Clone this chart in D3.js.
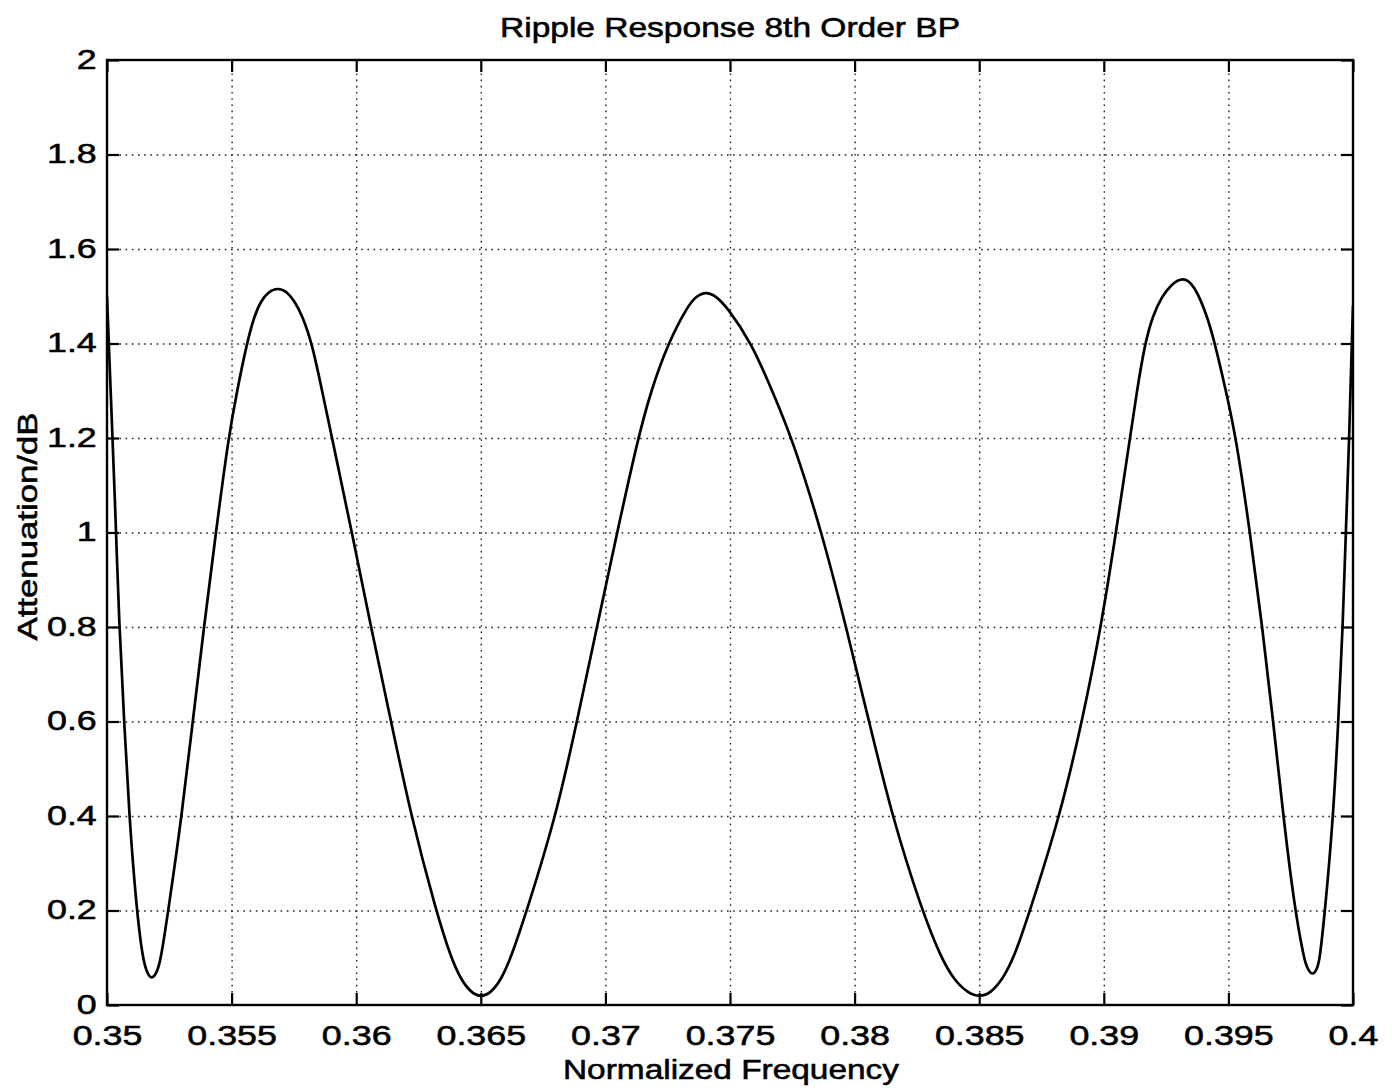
<!DOCTYPE html>
<html>
<head>
<meta charset="utf-8">
<script src="https://cdn.jsdelivr.net/npm/d3@7"></script>
<style>
  html, body { margin: 0; padding: 0; background: #fff; }
  svg { display: block; }
  text { font-family: "Liberation Sans", Arial, Helvetica, sans-serif; fill: #000;
         stroke: #000; stroke-width: 0.55px; paint-order: stroke; }
</style>
</head>
<body>
<svg id="chart" width="1392" height="1090"></svg>
<script>
// Passband ripple of the 8th order band-pass filter (attenuation in dB)
const freq = [
  0.35000, 0.35016, 0.35032, 0.35049, 0.35069, 0.35089, 0.35119, 0.35143, 0.35159,
  0.35179, 0.35202, 0.35217, 0.35246, 0.35300, 0.35344, 0.35389, 0.35437, 0.35487,
  0.35522, 0.35561, 0.35592, 0.35618, 0.35648, 0.35686, 0.35722, 0.35752, 0.35783,
  0.35823, 0.35863, 0.35903, 0.35983, 0.36059, 0.36140, 0.36220, 0.36320, 0.36380,
  0.36421, 0.36463, 0.36501, 0.36539, 0.36581, 0.36621, 0.36685, 0.36802, 0.36886,
  0.36966, 0.37047, 0.37131, 0.37183, 0.37251, 0.37331, 0.37364, 0.37404, 0.37444,
  0.37484, 0.37588, 0.37669, 0.37749, 0.37869, 0.37966, 0.38058, 0.38150, 0.38270,
  0.38347, 0.38399, 0.38455, 0.38503, 0.38545, 0.38592, 0.38640, 0.38704, 0.38824,
  0.38913, 0.38989, 0.39049, 0.39105, 0.39133, 0.39165, 0.39197, 0.39234, 0.39270,
  0.39318, 0.39362, 0.39414, 0.39446, 0.39490, 0.39531, 0.39587, 0.39636, 0.39680,
  0.39720, 0.39767, 0.39803, 0.39814, 0.39838, 0.39859, 0.39867, 0.39888, 0.39921,
  0.39941, 0.39959, 0.39971, 0.39985, 0.39995, 0.40000
];
const attenuation = [
  1.50, 1.28, 1.07, 0.80, 0.60, 0.40, 0.20, 0.10, 0.07,
  0.053, 0.07, 0.10, 0.20, 0.40, 0.60, 0.80, 1.00, 1.20,
  1.30, 1.40, 1.46, 1.49, 1.51, 1.518, 1.51, 1.49, 1.46,
  1.40, 1.30, 1.20, 1.00, 0.80, 0.60, 0.40, 0.20, 0.10,
  0.053, 0.025, 0.017, 0.025, 0.053, 0.10, 0.20, 0.40, 0.60,
  0.80, 1.00, 1.20, 1.30, 1.40, 1.48, 1.50, 1.51, 1.50,
  1.48, 1.40, 1.30, 1.20, 1.00, 0.80, 0.60, 0.40, 0.20,
  0.10, 0.053, 0.025, 0.017, 0.025, 0.053, 0.10, 0.20, 0.40,
  0.60, 0.80, 1.00, 1.20, 1.30, 1.40, 1.46, 1.50, 1.525,
  1.541, 1.525, 1.46, 1.40, 1.30, 1.20, 1.00, 0.80, 0.60,
  0.40, 0.20, 0.10, 0.08, 0.06, 0.08, 0.10, 0.20, 0.40,
  0.60, 0.80, 1.00, 1.20, 1.40, 1.48
];
const xTicks = [0.35, 0.355, 0.36, 0.365, 0.37, 0.375, 0.38, 0.385, 0.39, 0.395, 0.4];
const xTickLabels = ["0.35", "0.355", "0.36", "0.365", "0.37", "0.375", "0.38", "0.385", "0.39", "0.395", "0.4"];
const yTicks = [0, 0.2, 0.4, 0.6, 0.8, 1, 1.2, 1.4, 1.6, 1.8, 2];
const yTickLabels = ["0", "0.2", "0.4", "0.6", "0.8", "1", "1.2", "1.4", "1.6", "1.8", "2"];
const titleText = "Ripple Response 8th Order BP";
const xLabelText = "Normalized Frequency";
const yLabelText = "Attenuation/dB";

const plotLeft = 107, plotRight = 1353, plotTop = 60, plotBottom = 1005;
const W = plotRight - plotLeft, H = plotBottom - plotTop;
const stretch = 1.28; // horizontal widening of the lettering

const svg = d3.select("#chart");
const x = d3.scaleLinear().domain([0.35, 0.4]).range([0, W]);
const y = d3.scaleLinear().domain([0, 2]).range([H, 0]);

const g = svg.append("g").attr("transform", `translate(${plotLeft},${plotTop})`);

// dotted grid
const gridStyle = sel => {
  sel.select(".domain").remove();
  sel.selectAll(".tick text").remove();
  sel.selectAll(".tick line")
    .attr("stroke", "#222").attr("stroke-width", 1.4)
    .attr("stroke-dasharray", "1.6,4.6");
};
g.append("g").attr("transform", `translate(0,${H})`)
  .call(d3.axisBottom(x).tickValues(xTicks.slice(1, -1)).tickSize(-H))
  .call(gridStyle);
g.append("g")
  .call(d3.axisLeft(y).tickValues(yTicks.slice(1, -1)).tickSize(-W))
  .call(gridStyle);

// ripple curve (smoothed B-spline through the sampled response)
const pts = freq.map((f, i) => [f, attenuation[i]]);
g.append("defs").append("clipPath").attr("id", "plotclip")
  .append("rect").attr("x", -1).attr("y", -1).attr("width", W + 2).attr("height", H + 2);
g.append("path")
  .datum(pts)
  .attr("clip-path", "url(#plotclip)")
  .attr("fill", "none")
  .attr("stroke", "#000")
  .attr("stroke-width", 2.7)
  .attr("stroke-linejoin", "round")
  .attr("d", d3.line()
    .x(d => x(d[0]))
    .y(d => y(d[1]))
    .curve(d3.curveBasis));

// axes with inward ticks on all four sides
const axisStyle = sel => {
  sel.select(".domain").remove();
  sel.selectAll(".tick line").attr("stroke", "#000").attr("stroke-width", 2.2);
};
const xFmt = (d, i) => xTickLabels[i];
const yFmt = (d, i) => yTickLabels[i];

const xAxisB = g.append("g").attr("transform", `translate(0,${H})`)
  .call(d3.axisBottom(x).tickValues(xTicks).tickFormat(xFmt).tickSizeInner(-12).tickSizeOuter(0).tickPadding(20))
  .call(axisStyle);
xAxisB.selectAll(".tick text")
  .attr("font-size", 28).attr("fill", "#000")
  .attr("transform", `scale(${stretch},1)`);

g.append("g")
  .call(d3.axisTop(x).tickValues(xTicks).tickFormat("").tickSizeInner(-12).tickSizeOuter(0))
  .call(axisStyle);

const yAxisL = g.append("g")
  .call(d3.axisLeft(y).tickValues(yTicks).tickFormat(yFmt).tickSizeInner(-12).tickSizeOuter(0).tickPadding(8))
  .call(axisStyle);
yAxisL.selectAll(".tick text")
  .attr("font-size", 28).attr("fill", "#000")
  .attr("dy", "0.3em")
  .attr("transform", `scale(${stretch},1)`);

g.append("g").attr("transform", `translate(${W},0)`)
  .call(d3.axisRight(y).tickValues(yTicks).tickFormat("").tickSizeInner(-12).tickSizeOuter(0))
  .call(axisStyle);

// frame
g.append("rect")
  .attr("x", 0).attr("y", 0).attr("width", W).attr("height", H)
  .attr("fill", "none").attr("stroke", "#000").attr("stroke-width", 2.4);

// title and axis labels
svg.append("text")
  .attr("x", plotLeft + W / 2).attr("y", 37)
  .attr("text-anchor", "middle").attr("font-size", 28)
  .attr("textLength", 460).attr("lengthAdjust", "spacingAndGlyphs")
  .text(titleText);

svg.append("text")
  .attr("x", plotLeft + W / 2 + 1).attr("y", 1079)
  .attr("text-anchor", "middle").attr("font-size", 28)
  .attr("textLength", 336).attr("lengthAdjust", "spacingAndGlyphs")
  .text(xLabelText);

svg.append("text")
  .attr("transform", `translate(37,${plotTop + H / 2 - 6}) rotate(-90)`)
  .attr("text-anchor", "middle").attr("font-size", 28)
  .attr("textLength", 228).attr("lengthAdjust", "spacingAndGlyphs")
  .text(yLabelText);
</script>
</body>
</html>
